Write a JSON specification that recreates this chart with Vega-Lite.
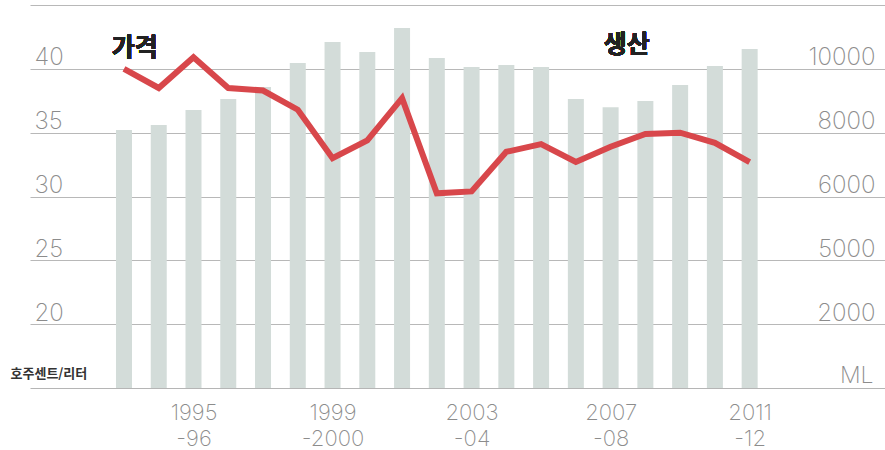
{
  "$schema": "https://vega.github.io/schema/vega-lite/v6.json",
  "width": 855,
  "height": 383,
  "autosize": {"type": "none"},
  "padding": {"left": 30, "top": 5, "right": 0, "bottom": 62},
  "background": "white",
  "config": {"view": {"stroke": null}},
  "data": {"values": [
    {"year": 1993, "price": 40.0, "production": 8080},
    {"year": 1994, "price": 38.5, "production": 8240},
    {"year": 1995, "price": 40.9, "production": 8710},
    {"year": 1996, "price": 38.5, "production": 9055},
    {"year": 1997, "price": 38.3, "production": 9430},
    {"year": 1998, "price": 36.8, "production": 10180},
    {"year": 1999, "price": 33.0, "production": 10840},
    {"year": 2000, "price": 34.4, "production": 10530},
    {"year": 2001, "price": 37.7, "production": 11280},
    {"year": 2002, "price": 30.25, "production": 10340},
    {"year": 2003, "price": 30.4, "production": 10060},
    {"year": 2004, "price": 33.5, "production": 10120},
    {"year": 2005, "price": 34.1, "production": 10060},
    {"year": 2006, "price": 32.7, "production": 9055},
    {"year": 2007, "price": 33.9, "production": 8800},
    {"year": 2008, "price": 34.9, "production": 8990},
    {"year": 2009, "price": 35.0, "production": 9490},
    {"year": 2010, "price": 34.2, "production": 10090},
    {"year": 2011, "price": 32.7, "production": 10620}
  ]},
  "encoding": {
    "x": {
      "field": "year", "type": "quantitative",
      "scale": {"domain": [1990.44, 2014.75], "nice": false, "zero": false},
      "axis": {
        "values": [1995, 1999, 2003, 2007, 2011],
        "labelExpr": "[format(datum.value, 'd'), datum.value == 1999 ? '-2000' : '-' + slice(format(datum.value + 1, 'd'), 2)]",
        "title": null, "grid": false, "ticks": false,
        "domain": true, "domainColor": "#b5b5b5", "domainWidth": 1.2,
        "labelFont": "Inter", "labelFontWeight": 200, "labelFontSize": 22,
        "labelColor": "#8c8c8c", "labelPadding": 14, "labelBaseline": "top",
        "labelLineHeight": 26
      }
    }
  },
  "layer": [
    {
      "mark": {"type": "bar", "width": 16, "color": "#d3dcd9"},
      "encoding": {
        "y": {
          "field": "production", "type": "quantitative",
          "scale": {"domain": [0, 12000], "nice": false},
          "axis": {
            "orient": "right",
            "values": [2000, 4000, 6000, 8000, 10000],
            "labelExpr": "datum.value == 4000 ? '5000' : format(datum.value, 'd')",
            "grid": false, "ticks": false, "domain": false,
            "labelAlign": "right", "labelPadding": -10,
            "labelBaseline": "alphabetic", "labelOffset": -4,
            "labelFont": "Inter", "labelFontWeight": 200, "labelFontSize": 24,
            "labelColor": "#8c8c8c",
            "title": "ML", "titleAngle": 0, "titleX": -12, "titleY": 377,
            "titleAlign": "right", "titleBaseline": "alphabetic",
            "titleFont": "Inter", "titleFontWeight": 200, "titleFontSize": 23,
            "titleColor": "#8c8c8c"
          }
        }
      }
    },
    {
      "mark": {"type": "line", "color": "#d8474b", "strokeWidth": 6, "strokeJoin": "miter", "strokeCap": "butt"},
      "encoding": {
        "y": {
          "field": "price", "type": "quantitative",
          "scale": {"domain": [15, 45], "nice": false, "zero": false},
          "axis": {
            "orient": "left",
            "values": [20, 25, 30, 35, 40, 45],
            "labelExpr": "datum.value == 45 ? '' : format(datum.value, 'd')",
            "grid": true, "gridColor": "#b8b8b8", "gridWidth": 1.2,
            "ticks": false, "domain": false,
            "labelAlign": "left", "labelPadding": -4,
            "labelBaseline": "alphabetic", "labelOffset": -4,
            "labelFont": "Inter", "labelFontWeight": 200, "labelFontSize": 24,
            "labelColor": "#8c8c8c",
            "title": "호주센트/리터", "titleAngle": 0, "titleX": -20, "titleY": 368,
            "titleAlign": "left", "titleBaseline": "middle",
            "titleFont": "Noto Sans CJK KR", "titleFontWeight": "bold", "titleFontSize": 13,
            "titleColor": "#333333"
          }
        }
      }
    },
    {
      "mark": {"type": "text", "text": "가격", "font": "Noto Sans CJK KR", "fontWeight": "bold", "fontSize": 25, "color": "#222222", "align": "left", "baseline": "middle"},
      "encoding": {
        "x": {"datum": 1992.65, "type": "quantitative"},
        "y": {"datum": 41.65, "type": "quantitative", "scale": {"domain": [15, 45], "nice": false, "zero": false}, "axis": null}
      }
    },
    {
      "mark": {"type": "text", "text": "생산", "font": "Noto Sans CJK KR", "fontWeight": "bold", "fontSize": 25, "color": "#222222", "align": "left", "baseline": "middle"},
      "encoding": {
        "x": {"datum": 2006.8, "type": "quantitative"},
        "y": {"datum": 41.85, "type": "quantitative", "scale": {"domain": [15, 45], "nice": false, "zero": false}, "axis": null}
      }
    }
  ],
  "resolve": {"scale": {"y": "independent"}}
}
